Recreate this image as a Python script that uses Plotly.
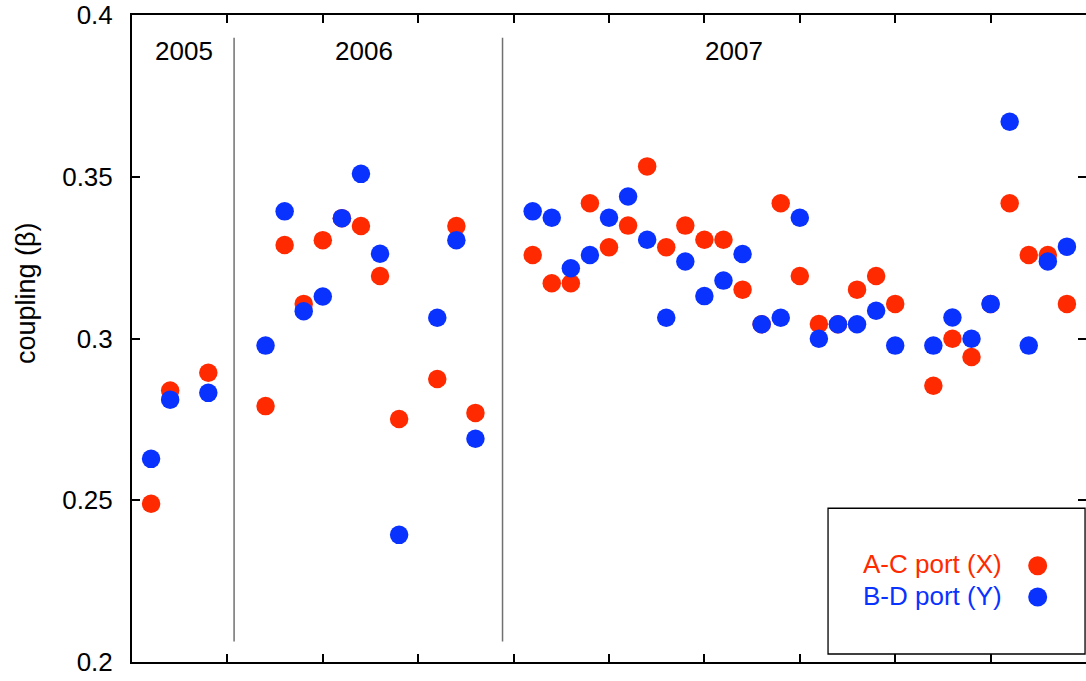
import plotly.graph_objects as go

# month index (x), coupling values for each port
months = [1, 2, 4, 7, 8, 9, 10, 11, 12, 13, 14, 16, 17, 18,
          21, 22, 23, 24, 25, 26, 27, 28, 29, 30, 31, 32, 33, 34, 35,
          36, 37, 38, 39, 40, 42, 43, 44, 45, 46, 47, 48, 49]
ac_port_x = [0.2489, 0.2839, 0.2894, 0.2791, 0.3289, 0.3107, 0.3304, 0.3372, 0.3348, 0.3193, 0.2751, 0.2875, 0.3348, 0.2770,
             0.3258, 0.3171, 0.3171, 0.3418, 0.3282, 0.3349, 0.3532, 0.3282, 0.3349, 0.3305, 0.3305, 0.3151, 0.3044, 0.3418, 0.3193,
             0.3045, 0.3044, 0.3151, 0.3193, 0.3107, 0.2854, 0.2999, 0.2943, 0.3107, 0.3418, 0.3258, 0.3258, 0.3107]
bd_port_y = [0.2628, 0.2811, 0.2832, 0.2978, 0.3393, 0.3084, 0.3130, 0.3372, 0.3509, 0.3262, 0.2393, 0.3064, 0.3304, 0.2690,
             0.3393, 0.3373, 0.3217, 0.3258, 0.3373, 0.3439, 0.3305, 0.3064, 0.3238, 0.3131, 0.3179, 0.3261, 0.3044, 0.3064, 0.3373,
             0.2999, 0.3044, 0.3044, 0.3086, 0.2978, 0.2978, 0.3065, 0.2999, 0.3107, 0.3670, 0.2978, 0.3238, 0.3284]

years = ["2005", "2006", "2007"]
year_label_x = [0.055, 0.2432, 0.6308]
year_dividers = [5.35, 19.42]
y_ticks = [0.2, 0.25, 0.3, 0.35, 0.4]
legend_names = ["A-C port (X)", "B-D port (Y)"]

RED = "#ff2a00"
BLUE = "#0a32ff"
FONT = "Liberation Sans, Arial, Helvetica, sans-serif"

fig = go.Figure()
fig.add_trace(go.Scatter(x=months, y=ac_port_x, mode="markers", name=legend_names[0],
                         marker=dict(color=RED, size=18.5, line=dict(width=0)), showlegend=False))
fig.add_trace(go.Scatter(x=months, y=bd_port_y, mode="markers", name=legend_names[1],
                         marker=dict(color=BLUE, size=18.5, line=dict(width=0)), showlegend=False))
# invisible trace to activate right-hand tick axis
fig.add_trace(go.Scatter(x=[None], y=[None], yaxis="y2", showlegend=False, hoverinfo="skip"))

shapes = []
for xv in year_dividers:
    shapes.append(dict(type="line", xref="x", yref="y", x0=xv, x1=xv, y0=0.2063, y1=0.393,
                       line=dict(color="#707070", width=1.5)))
# legend box and swatches
shapes.append(dict(type="rect", xref="paper", yref="paper", x0=0.7296, x1=0.999, y0=0.0124, y1=0.2376,
                   line=dict(color="black", width=1.3), fillcolor="white", layer="above"))
shapes.append(dict(type="circle", xref="paper", yref="paper", x0=0.9394, x1=0.9593, y0=0.1342, y1=0.1635,
                   line=dict(width=0), fillcolor=RED, layer="above"))
shapes.append(dict(type="circle", xref="paper", yref="paper", x0=0.9394, x1=0.9593, y0=0.0858, y1=0.1151,
                   line=dict(width=0), fillcolor=BLUE, layer="above"))

annotations = []
for lab, xp in zip(years, year_label_x):
    annotations.append(dict(text=lab, x=xp, y=0.9444, xref="paper", yref="paper", showarrow=False,
                            xanchor="center", yanchor="middle", font=dict(size=26, color="black", family=FONT)))
annotations.append(dict(text=legend_names[0], x=0.914, y=0.1515, xref="paper", yref="paper", showarrow=False,
                        xanchor="right", yanchor="middle", font=dict(size=26, color=RED, family=FONT)))
annotations.append(dict(text=legend_names[1], x=0.914, y=0.102, xref="paper", yref="paper", showarrow=False,
                        xanchor="right", yanchor="middle", font=dict(size=26, color=BLUE, family=FONT)))
annotations.append(dict(text="coupling (β)", x=-0.111, y=0.5703, xref="paper", yref="paper", showarrow=False,
                        textangle=-90, xanchor="center", yanchor="middle",
                        font=dict(size=27, color="black", family=FONT)))

fig.update_layout(
    width=1086, height=681,
    margin=dict(l=132, r=0, t=15, b=19),
    paper_bgcolor="white", plot_bgcolor="white",
    font=dict(family=FONT, size=26, color="black"),
    showlegend=False,
    xaxis=dict(range=[0, 50], tickvals=[5, 10, 15, 20, 25, 30, 35, 40, 45], showticklabels=False,
               ticks="inside", ticklen=8, tickwidth=2, tickcolor="black",
               showline=True, linewidth=2, linecolor="black", mirror="ticks",
               showgrid=False, zeroline=False),
    yaxis=dict(range=[0.2, 0.4], tickvals=y_ticks, ticktext=[str(v) for v in y_ticks],
               ticks="inside", ticklen=8, tickwidth=2, tickcolor="black",
               showline=True, linewidth=2, linecolor="black", mirror=False,
               showgrid=False, zeroline=False, ticklabelstandoff=12,
               tickfont=dict(size=26, family=FONT, color="black")),
    yaxis2=dict(range=[0.2, 0.4], tickvals=y_ticks, overlaying="y", side="right", anchor="x",
                ticks="inside", ticklen=8, tickwidth=2, tickcolor="black",
                showline=False, showticklabels=False, showgrid=False, zeroline=False),
    shapes=shapes,
    annotations=annotations,
)

fig.write_html("out.html", config={"displayModeBar": False},
               post_script="document.body.style.margin='0';document.body.style.overflow='hidden';")
